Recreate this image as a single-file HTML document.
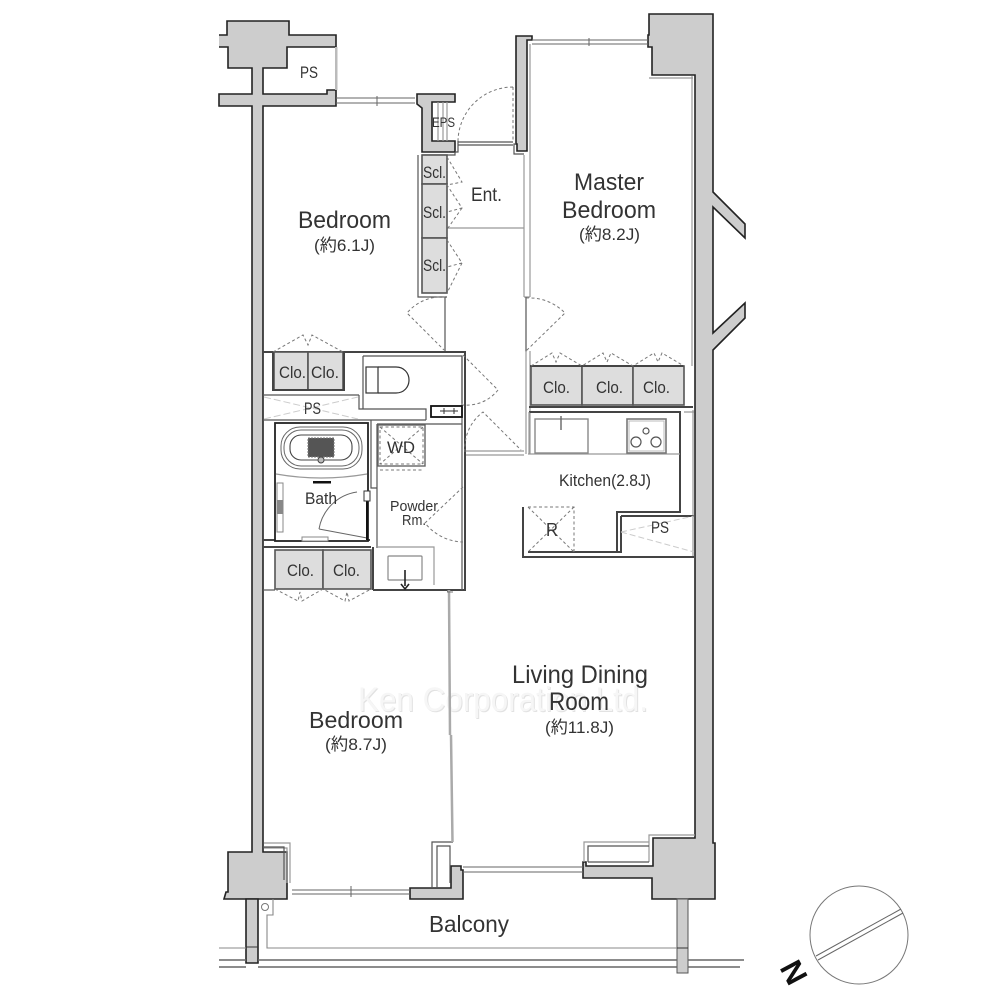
<!DOCTYPE html>
<html><head><meta charset="utf-8"><style>
html,body{margin:0;padding:0;background:#fff}
svg{display:block}
text{font-family:"Liberation Sans","Noto Sans CJK JP",sans-serif;fill:#333}
.w{fill:#cdcdcd;stroke:#222;stroke-width:1.6;stroke-linejoin:miter}
.l{fill:none;stroke:#555;stroke-width:1.2}
.g{fill:none;stroke:#999;stroke-width:1.2}
.t{fill:none;stroke:#444;stroke-width:2}
.d{fill:none;stroke:#777;stroke-width:1;stroke-dasharray:3 2.5}
.b{fill:#ddd;stroke:#555;stroke-width:1.6}
.n{fill:none;stroke:#ccc;stroke-width:1}
</style></head><body>
<svg width="1000" height="1000" viewBox="0 0 1000 1000" xmlns="http://www.w3.org/2000/svg">
<rect width="1000" height="1000" fill="#fff"/>
<text x="359" y="712" font-size="34" textLength="290" lengthAdjust="spacingAndGlyphs" style="fill:#e2e2e2">Ken Corporation Ltd.</text>
<text x="358" y="711" font-size="34" textLength="290" lengthAdjust="spacingAndGlyphs" style="fill:#f6f6f6">Ken Corporation Ltd.</text>

<!-- top-left structure + left wall -->
<path class="w" d="M219 35H227V21H289V35H336V47H287V68H263V94H327V90H336V106H263V852H287V899H224L226 892H228V852H252V106H219V94H252V68H228V47H219"/>
<rect x="335" y="47" width="2.5" height="43" fill="#bbb"/>
<!-- EPS block -->
<path class="w" d="M417 94H455V102H432V141H455V152H422V108L417 104Z"/>
<path class="g" d="M447 102V141M443 102V141M438 102V141"/>
<path class="l" d="M418 155V297H447M455 152V155H422"/>
<!-- centre wall -->
<path class="w" d="M516 36H532V40H527V151H517V144H516Z"/>
<path class="w" d="M649 14H713V192L745 224V238L713 207V333L745 303V318L713 350V843H715V899H652V878H583V862H586V866H653V838H695V75H652V47H648V35H649Z"/>
<path class="g" d="M692 76V366M693 410V556"/>
<path class="g" d="M649 78H693M264 843H290V883M264 848H287V883"/>
<path class="l" d="M263 847H284V880"/>
<!-- bottom right window box -->
<path class="g" d="M584 862V842H649V835H695M649 835V862"/>
<path class="l" d="M588 862V846H649M588 862H649"/>
<!-- bottom centre block -->
<path class="w" d="M410 888H451V866H461V870H463V899H410Z"/>
<path class="l" d="M432 888V842H453M437 888V846H450V883"/>
<!-- windows -->
<g fill="none" stroke="#666" stroke-width="1">
<path d="M336 98H415M336 103H415M377 96V106"/>
<path d="M532 40H648M532 44H648M589 38V46"/>
<path d="M292 890H410M292 894H410M351 886V897"/>
<path d="M463 867H583M463 872H583"/>
</g>
<!-- corridor -->
<path class="g" d="M524 155V297M530 44V297M524 297H530"/>
<path class="l" d="M458 142H513M458 145H513"/>
<path class="l" d="M458 141V152H455M516 144H514V154H524"/>
<path class="g" d="M447 228H524"/>
<path class="d" d="M513 87V142M513 87A55 55 0 0 0 458 141"/>
<!-- Scl -->
<rect class="b" x="422" y="155" width="25" height="29"/>
<rect class="b" x="422" y="184" width="25" height="54"/>
<rect class="b" x="422" y="238" width="25" height="55"/>
<path class="d" d="M447 157L462 182L447 185L462 208L447 212M462 208L448 228M447 240L462 263L447 267M462 263L447 293"/>
<path class="l" d="M445 297V352M526 297V352"/>
<path class="d" d="M445 297A45 45 0 0 0 407 313L444 350M526 298A50 50 0 0 1 565 313L526 351"/>
<!-- kitchen clo -->
<path class="g" d="M526 351V454M530 351V454"/>
<rect class="b" x="531" y="366" width="51" height="39"/>
<rect class="b" x="582" y="366" width="51" height="39"/>
<rect class="b" x="633" y="366" width="51" height="39"/>
<path class="t" d="M529 407H693M530 366H684"/>
<path class="d" d="M531 366L552 353L556 362L560 353L582 366L603 353L607 362L611 353L633 366L654 353L658 362L662 353L684 366"/>
<path class="t" d="M529 412H680V512H617V553M523 507V557H694M621 516H694M621 516V552H528"/>
<path class="g" d="M529 412V454M528 454H680M684 412H694"/>
<rect x="535" y="419" width="53" height="34" fill="none" stroke="#888" stroke-width="1.4"/>
<path d="M561 416V430" stroke="#666" stroke-width="1.4"/>
<rect x="627" y="419" width="39" height="34" fill="none" stroke="#777" stroke-width="1.6"/>
<rect x="629" y="421" width="35" height="30" fill="none" stroke="#bbb" stroke-width="1"/>
<circle class="l" cx="646" cy="431" r="3"/><circle class="l" cx="636" cy="442" r="5"/><circle class="l" cx="656" cy="442" r="5"/>
<path class="d" d="M528 507H574V552M528 507L574 552M574 507L528 552"/>
<path class="n" stroke-dasharray="6 3" d="M621 532L694 516M621 532L694 552"/>
<!-- door wall -->
<path class="g" d="M465 451H524M465 455H524"/>
<!-- wet core walls -->
<path class="t" d="M263 352H465V590H373M373 590V547M371 547H263M263 540H370"/>
<path class="l" d="M363 356H462V403M363 356V409H426V420M359 395V409H363M263 395H359M263 420H426"/>
<path class="l" d="M462 356V590M377 424H462M377 424V548M371 420V488H377M462 590V424"/>
<!-- clo top -->
<rect class="b" x="274" y="352" width="34" height="38"/><rect class="b" x="308" y="352" width="35" height="38"/>
<path class="t" d="M273 352V390H344V352"/>
<path class="d" d="M273 352L303 335L308 345L312 335L343 352"/>
<path class="n" stroke-dasharray="7 3" d="M264 397L358 419M264 419L358 397"/>
<!-- toilet -->
<rect x="366" y="367" width="12" height="26" fill="none" stroke="#333" stroke-width="1.2"/>
<path d="M378 367H396C404 367 409 373 409 380C409 387 404 393 396 393H378" fill="none" stroke="#333" stroke-width="1.2"/>
<rect x="431" y="406" width="31" height="11" fill="none" stroke="#111" stroke-width="1.8"/>
<path d="M440 411H458M444 408V414M454 408V414" stroke="#333" stroke-width="1"/>
<!-- doors -->
<path class="d" d="M463 355L498 390A40 40 0 0 1 463 405"/>
<path class="d" d="M465 452A45 45 0 0 1 483 412L521 450"/>
<path class="d" d="M463 487L425 523A50 50 0 0 0 463 542"/>
<!-- bath -->
<rect x="275" y="423" width="93" height="118" fill="#fff" stroke="#222" stroke-width="1.8"/>
<rect x="281" y="427" width="81" height="42" rx="19" fill="none" stroke="#666" stroke-width="1"/>
<rect x="284" y="430" width="75" height="36" rx="17" fill="none" stroke="#666" stroke-width="1"/>
<rect x="290" y="435" width="62" height="25" rx="11" fill="none" stroke="#444" stroke-width="1.1"/>
<rect x="308" y="438" width="26" height="19" fill="#555" stroke="#777" stroke-dasharray="2 1" stroke-width="1"/>
<circle cx="321" cy="460" r="3" fill="#bbb" stroke="#444"/>
<path class="g" d="M276 474Q321 482 367 474"/>
<rect x="313" y="481" width="18" height="2.5" fill="#111"/>
<rect x="277" y="483" width="6" height="49" fill="#fff" stroke="#888" stroke-width="1"/>
<rect x="277" y="500" width="6" height="14" fill="#888"/>
<rect x="302" y="537" width="26" height="4" fill="#fff" stroke="#888"/>
<path d="M319 529L367 538M319 529A45 45 0 0 1 357 492" fill="none" stroke="#666" stroke-width="1"/>
<path d="M367 492V540" stroke="#111" stroke-width="2"/>
<rect x="364" y="491" width="6" height="10" fill="#fff" stroke="#333" stroke-width="1"/>
<!-- WD -->
<rect x="378" y="425" width="47" height="41" fill="none" stroke="#666" stroke-width="1.4"/>
<path class="d" d="M380 427H423V464H380ZM380 427L423 464M423 427L380 464M380 470H423"/>
<!-- powder -->
<path class="g" d="M377 547H434V585"/>
<rect x="388" y="556" width="34" height="24" rx="1" fill="none" stroke="#888" stroke-width="1.2"/>
<path d="M405 570V586M401 584L405 589L409 584" fill="none" stroke="#222" stroke-width="1.6"/>
<!-- clo bottom -->
<rect class="b" x="275" y="550" width="48" height="39"/><rect class="b" x="323" y="550" width="48" height="39"/>
<path class="l" d="M263 590H275"/>
<path class="d" d="M275 589L298 601L300 592L302 601L323 589L345 601L347 592L349 601L371 589"/>
<!-- LD partition -->
<path d="M449 590L450 735M451 735L452.500 842" stroke="#aaa" stroke-width="2.500" fill="none"/>
<path d="M447.500 590V592H453" stroke="#777" fill="none"/>
<!-- balcony -->
<path class="w" d="M246 899H258V963H246Z"/>
<path class="w" d="M677 899H688V973H677Z" style="stroke-width:1;stroke:#555"/>
<path d="M246 947H258M677 948H688" stroke="#333" stroke-width="1"/>
<circle cx="265" cy="907" r="3.500" fill="#fff" stroke="#777"/>
<path d="M273 899V915H267V948H677M219 948H246" fill="none" stroke="#888" stroke-width="1.100"/>
<path d="M219 960H246M258 960H677M688 960H744" stroke="#666" stroke-width="1.600" fill="none"/>
<path d="M219 967H246M258 967H677M688 967H740" stroke="#666" stroke-width="1.600" fill="none"/>
<!-- compass -->
<circle cx="859" cy="935" r="49" fill="none" stroke="#777" stroke-width="1"/>
<path d="M816 956L901 909M818 960L903 913" stroke="#666" stroke-width="1" fill="none"/>
<text transform="translate(794 972) rotate(62)" x="-11" y="11" font-size="31" font-weight="bold" style="fill:#111">N</text>
<!-- labels -->
<text x="298" y="228" font-size="24" textLength="93" lengthAdjust="spacingAndGlyphs">Bedroom</text>
<text x="314" y="251" font-size="17" textLength="61" lengthAdjust="spacingAndGlyphs">(約6.1J)</text>
<text x="471" y="201" font-size="19" textLength="31" lengthAdjust="spacingAndGlyphs">Ent.</text>
<text x="574" y="190" font-size="24" textLength="70" lengthAdjust="spacingAndGlyphs">Master</text>
<text x="562" y="218" font-size="24" textLength="94" lengthAdjust="spacingAndGlyphs">Bedroom</text>
<text x="579" y="240" font-size="17" textLength="61" lengthAdjust="spacingAndGlyphs">(約8.2J)</text>
<text x="300" y="78" font-size="17" textLength="18" lengthAdjust="spacingAndGlyphs">PS</text>
<text x="432" y="127" font-size="14" textLength="23" lengthAdjust="spacingAndGlyphs">EPS</text>
<text x="423" y="178" font-size="17" textLength="23" lengthAdjust="spacingAndGlyphs">Scl.</text>
<text x="423" y="218" font-size="17" textLength="23" lengthAdjust="spacingAndGlyphs">Scl.</text>
<text x="423" y="271" font-size="17" textLength="23" lengthAdjust="spacingAndGlyphs">Scl.</text>
<text x="279" y="378" font-size="17" textLength="27" lengthAdjust="spacingAndGlyphs">Clo.</text>
<text x="311" y="378" font-size="17" textLength="28" lengthAdjust="spacingAndGlyphs">Clo.</text>
<text x="304" y="414" font-size="17" textLength="17" lengthAdjust="spacingAndGlyphs">PS</text>
<text x="387" y="453" font-size="17" textLength="28" lengthAdjust="spacingAndGlyphs">WD</text>
<text x="305" y="504" font-size="17" textLength="32" lengthAdjust="spacingAndGlyphs">Bath</text>
<text x="390" y="511" font-size="15" textLength="48" lengthAdjust="spacingAndGlyphs">Powder</text>
<text x="402" y="525" font-size="15" textLength="24" lengthAdjust="spacingAndGlyphs">Rm.</text>
<text x="287" y="576" font-size="17" textLength="27" lengthAdjust="spacingAndGlyphs">Clo.</text>
<text x="333" y="576" font-size="17" textLength="27" lengthAdjust="spacingAndGlyphs">Clo.</text>
<text x="543" y="393" font-size="17" textLength="27" lengthAdjust="spacingAndGlyphs">Clo.</text>
<text x="596" y="393" font-size="17" textLength="27" lengthAdjust="spacingAndGlyphs">Clo.</text>
<text x="643" y="393" font-size="17" textLength="27" lengthAdjust="spacingAndGlyphs">Clo.</text>
<text x="559" y="486" font-size="17" textLength="92" lengthAdjust="spacingAndGlyphs">Kitchen(2.8J)</text>
<text x="546" y="536" font-size="18" textLength="12" lengthAdjust="spacingAndGlyphs">R</text>
<text x="651" y="533" font-size="17" textLength="18" lengthAdjust="spacingAndGlyphs">PS</text>
<text x="512" y="683" font-size="25" textLength="136" lengthAdjust="spacingAndGlyphs">Living Dining</text>
<text x="549" y="710" font-size="25" textLength="60" lengthAdjust="spacingAndGlyphs">Room</text>
<text x="545" y="733" font-size="17" textLength="69" lengthAdjust="spacingAndGlyphs">(約11.8J)</text>
<text x="309" y="728" font-size="23" textLength="94" lengthAdjust="spacingAndGlyphs">Bedroom</text>
<text x="325" y="750" font-size="17" textLength="62" lengthAdjust="spacingAndGlyphs">(約8.7J)</text>
<text x="429" y="932" font-size="23" textLength="80" lengthAdjust="spacingAndGlyphs">Balcony</text>
</svg>
</body></html>
